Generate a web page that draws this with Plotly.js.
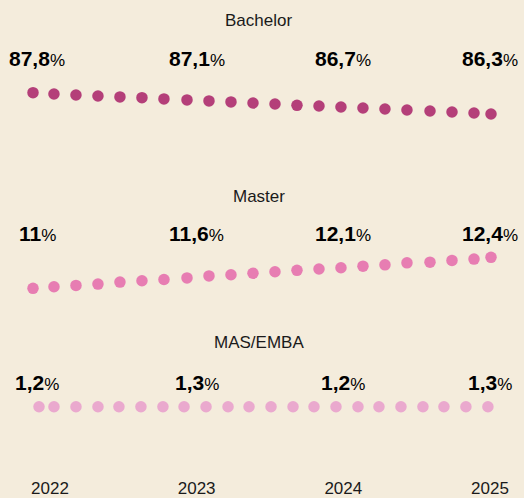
<!DOCTYPE html>
<html>
<head>
<meta charset="utf-8">
<script src="https://cdn.plot.ly/plotly-3.0.1.min.js"></script>
<style>
html,body{margin:0;padding:0;background:#F4ECDC;}
#chart{width:524px;height:498px;}
</style>
</head>
<body>
<div id="chart"></div>
<script>
// Tick labels (years)
const years = [2022, 2023, 2024, 2025];
const yearLabels = ["2022", "2023", "2024", "2025"];

// Series names
const seriesNames = ["Bachelor", "Master", "MAS/EMBA"];

// Headline values per year (shown as labels)
const bachelorLabels = ["87,8", "87,1", "86,7", "86,3"];
const masterLabels = ["11", "11,6", "12,1", "12,4"];
const masLabels = ["1,2", "1,3", "1,2", "1,3"];

// Dot positions in time (decimal years)
const dotX = [2021.884, 2022.027, 2022.177, 2022.327, 2022.477, 2022.627, 2022.777, 2022.934,
  2023.084, 2023.234, 2023.384, 2023.534, 2023.684, 2023.834, 2023.984, 2024.134,
  2024.284, 2024.434, 2024.591, 2024.741, 2024.891, 2025.007];
const masDotX = [2021.925, 2022.027, 2022.177, 2022.327, 2022.470, 2022.620, 2022.770, 2022.914,
  2023.064, 2023.214, 2023.357, 2023.507, 2023.657, 2023.800, 2023.950, 2024.100,
  2024.243, 2024.393, 2024.543, 2024.686, 2024.836, 2024.986];

// Dot values (%)
const bachelorDots = [87.80, 87.71, 87.64, 87.57, 87.50, 87.45, 87.36, 87.29, 87.22, 87.15, 87.07,
  87.00, 86.91, 86.86, 86.79, 86.72, 86.65, 86.58, 86.51, 86.44, 86.37, 86.30];
const masterDots = [11.00, 11.07, 11.13, 11.19, 11.28, 11.34, 11.40, 11.47, 11.56, 11.61, 11.68,
  11.75, 11.81, 11.87, 11.93, 12.00, 12.06, 12.15, 12.18, 12.26, 12.32, 12.40];
const masDots = [1.25, 1.25, 1.25, 1.25, 1.25, 1.25, 1.25, 1.25, 1.25, 1.25, 1.25,
  1.25, 1.25, 1.25, 1.25, 1.25, 1.25, 1.25, 1.25, 1.25, 1.25, 1.25];

const colors = ["#B43F79", "#E77DB2", "#EAA9CE"];
const bg = "#F4ECDC";
const textFont = "Liberation Sans, Arial, Helvetica, sans-serif";

const traces = [
  {x: dotX, y: bachelorDots, yaxis: "y", name: seriesNames[0]},
  {x: dotX, y: masterDots, yaxis: "y2", name: seriesNames[1]},
  {x: masDotX, y: masDots, yaxis: "y3", name: seriesNames[2]}
].map((t, i) => Object.assign(t, {
  type: "scatter", mode: "markers", cliponaxis: false, hoverinfo: "skip",
  marker: {color: colors[i], size: 11.5, line: {width: 0}}
}));

const hiddenY = {visible: false, fixedrange: true};
const layout = {
  width: 524, height: 498,
  margin: {l: 0, r: 0, t: 0, b: 20},
  paper_bgcolor: bg, plot_bgcolor: bg,
  showlegend: false,
  xaxis: {
    anchor: "free", position: 0.005,
    range: [2021.659, 2025.232],
    tickvals: years, ticktext: yearLabels,
    showgrid: false, zeroline: false, showline: false, ticks: "",
    tickfont: {family: textFont, size: 17, color: "#1a1a1a"}
  },
  yaxis: Object.assign({domain: [0.7071, 0.8745], range: [84.47, 90.10]}, hiddenY),
  yaxis2: Object.assign({domain: [0.3305, 0.5188], range: [9.568, 13.633]}, hiddenY),
  yaxis3: Object.assign({domain: [0.1004, 0.2050], range: [1.017, 1.517]}, hiddenY),
  annotations: []
};

const titleY = [0.9567, 0.5879, 0.2845];
const labelY = [0.8766, 0.5105, 0.2008];
const labelSets = [bachelorLabels, masterLabels, masLabels];

seriesNames.forEach((name, i) => {
  layout.annotations.push({
    xref: "paper", yref: "paper", x: 0.494, y: titleY[i],
    xanchor: "center", yanchor: "middle", showarrow: false,
    text: name, font: {family: textFont, size: 17, color: "#1a1a1a"}
  });
  labelSets[i].forEach((lab, j) => {
    layout.annotations.push({
      xref: "x", yref: "paper", x: years[j], y: labelY[i],
      xshift: j === 0 ? -13 : 0,
      xanchor: "center", yanchor: "middle", showarrow: false,
      text: "<b>" + lab + "</b><span style='font-size:17px'>%</span>",
      font: {family: textFont, size: 21, color: "#000000"}
    });
  });
});

Plotly.newPlot("chart", traces, layout, {displayModeBar: false, staticPlot: true});
</script>
</body>
</html>
